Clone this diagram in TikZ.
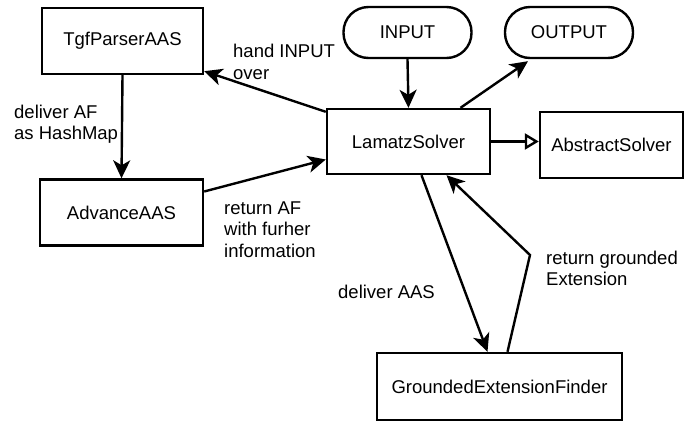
\documentclass[tikz,border=0pt]{standalone}
\usepackage{fontspec}
\setmainfont{Liberation Sans}
\usetikzlibrary{arrows.meta}

\begin{document}
\begin{tikzpicture}[x=1pt,y=-1pt,line width=2.4pt,
	every node/.style={font=\fontsize{18.5}{21.5}\selectfont},
	classbox/.style={draw,minimum width=#1,minimum height=66pt,inner sep=0pt},
	terminal/.style={draw,rounded corners=25pt,minimum width=128pt,minimum height=51pt,inner sep=0pt},
	note/.style={anchor=west,align=left,inner sep=0pt},
	flow/.style={-{Stealth[length=18pt,width=17pt,inset=5pt]}},
	inherit/.style={-{Triangle[open,length=14pt,width=16pt]}}]
	\useasboundingbox (0,0) rectangle (686,421);
	\node[classbox=161pt] (tgf) at (122.5,41) {TgfParserAAS};
	\node[classbox=163pt] (adv) at (121.5,212.5) {AdvanceAAS};
	\node[classbox=163pt,minimum height=65pt] (lam) at (408.5,141.5) {LamatzSolver};
	\node[classbox=143pt] (abs) at (611.5,145) {AbstractSolver};
	\node[classbox=245pt,minimum height=67pt] (gef) at (499.5,386.5) {GroundedExtensionFinder};
	\node[terminal] (inp) at (407.5,32.5) {INPUT};
	\node[terminal] (out) at (569,32.5) {OUTPUT};
	% connectors
	\draw[flow] (inp.south) -- (lam.north);
	\draw[flow] ([xshift=52pt]lam.north) -- ([xshift=-41pt,yshift=-2pt]out.south);
	\draw[inherit] (lam.east) -- (lam.east -| abs.west);
	\draw[flow] ([yshift=-4pt]lam.north west) -- ([yshift=4pt]tgf.south east);
	\draw[flow] (tgf.south) -- (adv.north);
	\draw[flow] ([yshift=21pt]adv.east) -- ([yshift=-18pt]lam.west);
	\draw[flow] ([xshift=13pt]lam.south) -- ([xshift=-12pt]gef.north);
	\coordinate (bend) at (530,255);
	\draw[flow] ([xshift=8pt]gef.north) -- (bend) -- ([xshift=38pt]lam.south);
	% labels
	\node[note] (l1) at (232,62) {hand INPUT\\over};
	\node[note] (l2) at (13,124) {deliver AF\\as HashMap};
	\node[note] (l3) at (223,229.5) {return AF\\with furher\\information};
	\node[note] (l4) at (337,292) {deliver AAS};
	\node[note] (l5) at (545,268.5) {return grounded\\Extension};
\end{tikzpicture}
\end{document}
